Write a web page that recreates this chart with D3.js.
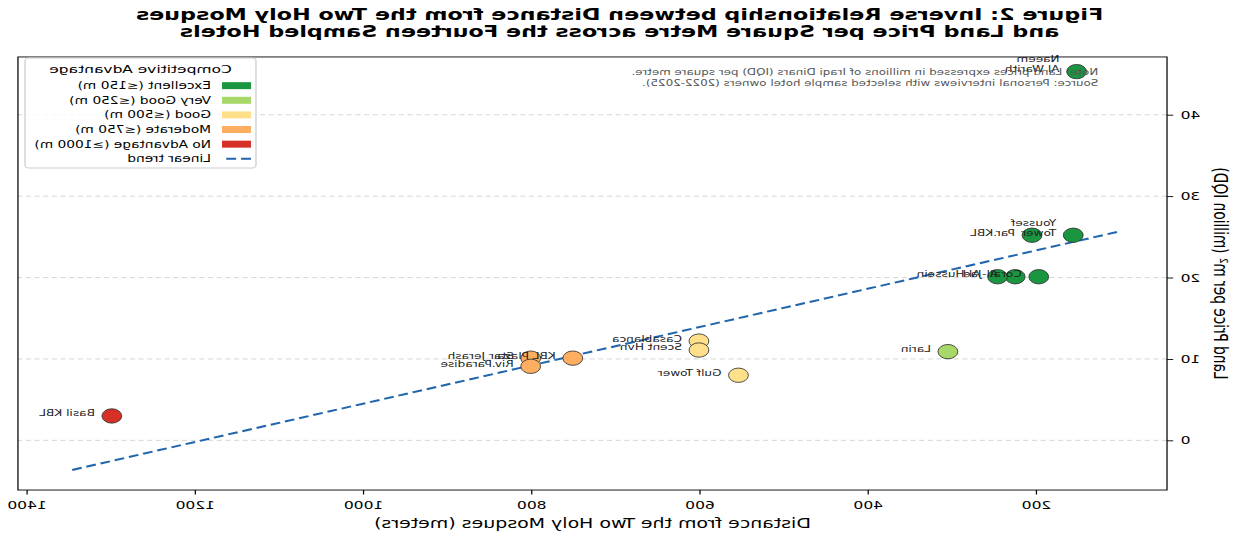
<!DOCTYPE html>
<html>
<head>
<meta charset="utf-8">
<script src="https://cdn.jsdelivr.net/npm/d3@7"></script>
<style>
  body { margin: 0; background: #fff; }
  text { font-family: "DejaVu Sans", sans-serif; }
</style>
</head>
<body>
<svg id="chart" width="1239" height="538"></svg>
<script>
// hotel data
const hotels = ["Naeem\nAl Warith", "Youssef\nTower", "Par.KBL", "Coral", "Al-Jad", "Al-Hussein", "Larin",
  "Casablanca", "Scent Hvn", "Gulf Tower", "KBL Plaza", "Star Jerash", "Riv.Paradise", "Basil KBL"];
const distance = [153, 157, 206, 198, 226, 247, 306, 602, 602, 555, 752, 802, 802, 1300];
const price = [45.3, 25.2, 25.2, 20.1, 20.1, 20.1, 10.9, 12.2, 11.1, 8.0, 10.1, 10.1, 9.1, 3.0];
const advantage = ["Excellent", "Excellent", "Excellent", "Excellent", "Excellent", "Excellent", "Very Good",
  "Good", "Good", "Good", "Moderate", "Moderate", "Moderate", "No Advantage"];

const classes = ["Excellent", "Very Good", "Good", "Moderate", "No Advantage"];
const classLabels = ["Excellent (≤150 m)", "Very Good (≤250 m)", "Good (≤500 m)", "Moderate (≤750 m)", "No Advantage (≥1000 m)"];
const classColors = ["#1a9641", "#a6d96a", "#fee08b", "#fdae61", "#d73027"];

// fitted trend line end points
const trendX = [105, 1350];
const trendY = [25.6, -3.7];

const xTicks = [200, 400, 600, 800, 1000, 1200, 1400];
const yTicks = [0, 10, 20, 30, 40];

const titleLines = ["Figure 2: Inverse Relationship between Distance from the Two Holy Mosques",
  "and Land Price per Square Metre across the Fourteen Sampled Hotels"];
const noteLines = ["Note: Land prices expressed in millions of Iraqi Dinars (IQD) per square metre.",
  "Source: Personal interviews with selected sample hotel owners (2022-2025)."];

// the picture is a mirrored, stretched copy of a 1000x600 figure
const W = 1000, H = 600;
const margin = {top: 63.5, right: 14.5, bottom: 53.7, left: 58.1};
const width = W - margin.left - margin.right;
const height = H - margin.top - margin.bottom;

const svg = d3.select("#chart");
svg.append("rect").attr("width", 1239).attr("height", 538).attr("fill", "#fff");

const root = svg.append("g")
  .attr("transform", "translate(1239,0) scale(-1.239,0.897)");

const g = root.append("g")
  .attr("transform", "translate(" + margin.left + "," + margin.top + ")");

const x = d3.scaleLinear().domain([45.5, 1411.6]).range([0, width]);
const y = d3.scaleLinear().domain([-6.1, 47.1]).range([height, 0]);
const color = d3.scaleOrdinal().domain(classes).range(classColors);

// horizontal grid
g.selectAll(".grid").data(yTicks).enter().append("line")
  .attr("x1", 0).attr("x2", width)
  .attr("y1", d => y(d)).attr("y2", d => y(d))
  .attr("stroke", "#cfcfcf").attr("stroke-width", 0.8)
  .attr("stroke-dasharray", "4,3");

// trend line
g.append("path")
  .datum(trendX.map((d, i) => [d, trendY[i]]))
  .attr("d", d3.line().x(d => x(d[0])).y(d => y(d[1])))
  .attr("fill", "none")
  .attr("stroke", "#2166ac")
  .attr("stroke-width", 2.2)
  .attr("stroke-dasharray", "8,4");

const pts = hotels.map((h, i) => ({name: h, d: distance[i], p: price[i], a: advantage[i]}));

// points
g.selectAll(".pt").data(pts).enter().append("circle")
  .attr("cx", d => x(d.d))
  .attr("cy", d => y(d.p))
  .attr("r", 8)
  .attr("fill", d => color(d.a))
  .attr("stroke", "#333")
  .attr("stroke-width", 0.8);

// point labels, last line sits next to the point
pts.forEach(d => {
  const lines = d.name.split("\n");
  const t = g.append("text")
    .attr("x", x(d.d) + 13.7)
    .attr("y", y(d.p) + 0.5 - (lines.length - 1) * 11)
    .style("font-size", "9.8px")
    .attr("fill", "#222");
  lines.forEach((l, i) => {
    t.append("tspan").attr("x", x(d.d) + 13.7).attr("dy", i ? 11 : 0).text(l);
  });
});

// axes
const xAxis = g.append("g")
  .attr("transform", "translate(0," + height + ")")
  .call(d3.axisBottom(x).tickValues(xTicks).tickFormat(d3.format("d")).tickSize(5).tickSizeOuter(0).tickPadding(7));
const yAxis = g.append("g")
  .call(d3.axisLeft(y).tickValues(yTicks).tickFormat(d3.format("d")).tickSize(5).tickSizeOuter(0).tickPadding(6));
[xAxis, yAxis].forEach(a => {
  a.select(".domain").remove();
  a.selectAll("text").style("font-size", "12.5px").style("font-family", "DejaVu Sans").attr("fill", "#000");
  a.selectAll("line").attr("stroke", "#000");
});

// frame
g.append("rect").attr("width", width).attr("height", height)
  .attr("fill", "none").attr("stroke", "#000").attr("stroke-width", 1);

// axis titles
g.append("text")
  .attr("x", width / 2).attr("y", height + 42)
  .attr("text-anchor", "middle")
  .style("font-size", "15.3px")
  .text("Distance from the Two Holy Mosques (meters)");

g.append("text")
  .attr("transform", "rotate(-90)")
  .attr("x", -height / 2).attr("y", -38)
  .attr("text-anchor", "middle")
  .style("font-size", "15.3px")
  .text("Land Price per m² (million IQD)");

// note
noteLines.forEach((l, i) => {
  g.append("text")
    .attr("x", 55.5).attr("y", 20.5 + i * 12.2)
    .style("font-size", "9.6px")
    .attr("fill", "#555")
    .text(l);
});

// legend
const lg = g.append("g").attr("transform", "translate(" + (width - 5.7 - 186.4) + ",1.2)");
lg.append("rect")
  .attr("width", 186.4).attr("height", 122.6).attr("rx", 3)
  .attr("fill", "#fff").attr("fill-opacity", 0.8)
  .attr("stroke", "#ccc").attr("stroke-width", 1);
lg.append("text")
  .attr("x", 93.2).attr("y", 16.6)
  .attr("text-anchor", "middle")
  .style("font-size", "12.5px")
  .text("Competitive Advantage");
classes.forEach((c, i) => {
  const yy = 30.8 + i * 16.3;
  lg.append("rect")
    .attr("x", 4).attr("y", yy - 3.9).attr("width", 23.4).attr("height", 7.8)
    .attr("fill", classColors[i]);
  lg.append("text")
    .attr("x", 36.3).attr("y", yy + 3.9)
    .style("font-size", "11.1px")
    .text(classLabels[i]);
});
const yy = 30.8 + 5 * 16.3;
lg.append("line")
  .attr("x1", 4).attr("x2", 27.4).attr("y1", yy).attr("y2", yy)
  .attr("stroke", "#2166ac").attr("stroke-width", 2.2).attr("stroke-dasharray", "8,4");
lg.append("text")
  .attr("x", 36.3).attr("y", yy + 3.9)
  .style("font-size", "11.1px")
  .text("Linear trend");

// title
titleLines.forEach((l, i) => {
  root.append("text")
    .attr("x", W / 2).attr("y", 22 + i * 19.5)
    .attr("text-anchor", "middle")
    .style("font-size", "18px")
    .style("font-weight", "bold")
    .text(l);
});
</script>
</body>
</html>
